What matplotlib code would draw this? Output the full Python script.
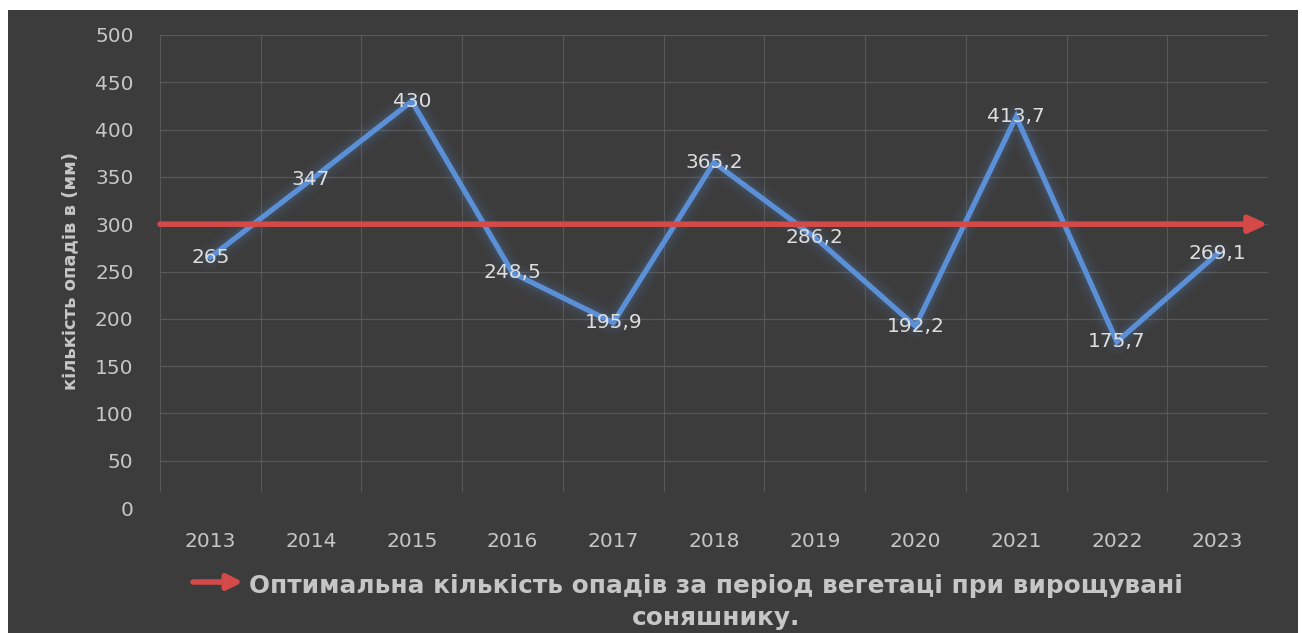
import numpy as np
import matplotlib.pyplot as plt
from matplotlib.patches import Rectangle, FancyArrowPatch

years = ['2013', '2014', '2015', '2016', '2017', '2018',
         '2019', '2020', '2021', '2022', '2023']
rain = [265, 347, 430, 248.5, 195.9, 365.2, 286.2, 192.2, 413.7, 175.7, 269.1]
optimum = 300
y_ticks = [0, 50, 100, 150, 200, 250, 300, 350, 400, 450, 500]
y_title = 'кількість опадів в (мм)'
legend_text = 'Оптимальна кількість опадів за період вегетаці при вирощувані\nсоняшнику.'

bg = '#3c3c3c'
txt = '#c6c6c6'
grid_c = '#575757'
blue = '#5b8fd6'
red = '#d44a48'

fig = plt.figure(figsize=(13.02, 6.33), dpi=100, facecolor='white')
fig.patches.append(Rectangle((8 / 1302, 0), 1290 / 1302, 623 / 633,
                             transform=fig.transFigure, facecolor=bg,
                             edgecolor='none', zorder=-10))

ax = fig.add_axes([160 / 1302, 1 - 508 / 633, 1108 / 1302, 473 / 633])
ax.set_facecolor('none')
n = len(years)
x = np.arange(n)
ax.set_xlim(-0.5, n - 0.5)
ax.set_ylim(0, 500)

for s in ax.spines.values():
    s.set_visible(False)

# grid: horizontal at value ticks, vertical at category boundaries
for v in y_ticks[1:]:
    ax.axhline(v, color=grid_c, lw=0.9, zorder=1)
for b in np.arange(-0.5, n, 1.0):
    ax.plot([b, b], [18, 500], color=grid_c, lw=0.8, zorder=1)

ax.set_yticks(y_ticks)
ax.set_yticklabels([str(v) for v in y_ticks])
ax.set_xticks(x)
ax.set_xticklabels(years)
ax.tick_params(length=0, colors=txt, labelsize=14.5)
ax.tick_params(axis='y', pad=19)
ax.tick_params(axis='x', pad=17)

ax.set_ylabel(y_title, color=txt, fontsize=13, fontweight='bold', labelpad=11)

# soft glow under the series line
for w, a in [(18, 0.04), (13, 0.06), (8, 0.10)]:
    ax.plot(x, rain, color=blue, lw=w, alpha=a, solid_joinstyle='round',
            solid_capstyle='round', zorder=2)
ax.plot(x, rain, color=blue, lw=3.8, solid_joinstyle='miter', zorder=3)

# optimum line with arrow head
ax.add_patch(FancyArrowPatch((-0.5, optimum), (n - 0.5, optimum),
                             arrowstyle='-|>,head_length=11,head_width=5',
                             color=red, lw=4, zorder=4, clip_on=False,
                             shrinkA=0, shrinkB=0))

for xi, v in zip(x, rain):
    lab = f'{v:g}'.replace('.', ',')
    ax.text(xi, v, lab, color='#dedede', fontsize=14.5, ha='center',
            va='center', zorder=5)

# legend entry below the axis
fig.patches.append(FancyArrowPatch((193 / 1302, 1 - 582 / 633),
                                   (243 / 1302, 1 - 582 / 633),
                                   transform=fig.transFigure,
                                   arrowstyle='-|>,head_length=9,head_width=4.5',
                                   color=red, lw=4, shrinkA=0, shrinkB=0))
fig.text(716 / 1302, 1 - 602 / 633, legend_text, color=txt, fontsize=17.8,
         fontweight='bold', ha='center', va='center', linespacing=1.42)

fig.savefig('out.png', dpi=100, facecolor='white')
